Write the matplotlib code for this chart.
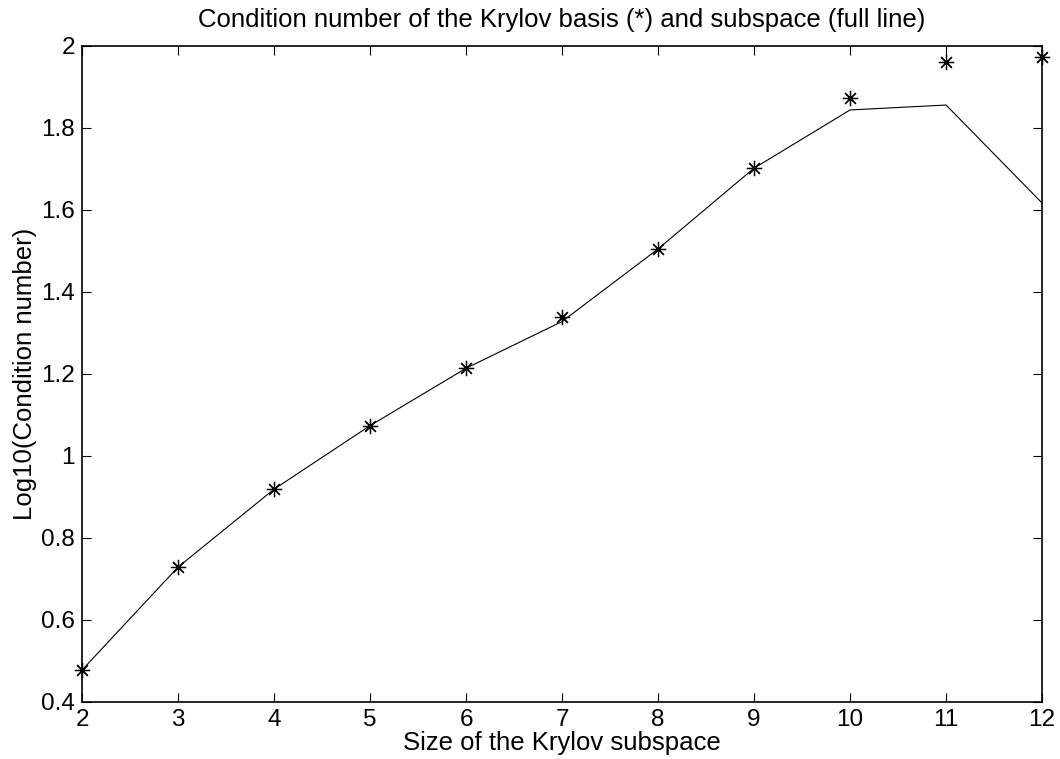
import numpy as np
import matplotlib
import matplotlib.pyplot as plt
matplotlib.use('Agg')

plt.rcParams['font.family'] = ['Liberation Sans', 'DejaVu Sans']

# Krylov subspace sizes and log10 of the condition numbers
sizes = [2, 3, 4, 5, 6, 7, 8, 9, 10, 11, 12]
basis_cond = [0.478, 0.729, 0.919, 1.074, 1.214, 1.340, 1.505, 1.702, 1.874, 1.960, 1.972]
subspace_cond = [0.478, 0.729, 0.919, 1.074, 1.214, 1.328, 1.505, 1.702, 1.844, 1.856, 1.617]

xticks = [2, 3, 4, 5, 6, 7, 8, 9, 10, 11, 12]
yticks = [0.4, 0.6, 0.8, 1.0, 1.2, 1.4, 1.6, 1.8, 2.0]
ytick_labels = ['0.4', '0.6', '0.8', '1', '1.2', '1.4', '1.6', '1.8', '2']

fig = plt.figure(figsize=(10.6, 7.59), dpi=100)
ax = fig.add_axes([0.0774, 0.0751, 0.9057, 0.8643])

ax.plot(sizes, subspace_cond, color='black', linewidth=0.8, clip_on=False)
ax.plot(sizes, basis_cond, linestyle='none', marker=(8, 2, 0), markersize=11,
        markeredgewidth=0.9, color='black', clip_on=False)

ax.set_xlim(2, 12)
ax.set_ylim(0.4, 2)
ax.set_xticks(xticks)
ax.set_yticks(yticks)
ax.set_yticklabels(ytick_labels)

ax.tick_params(direction='in', length=6.5, width=0.8, top=True, right=True,
               labelsize=17.5, pad=5)
for s in ax.spines.values():
    s.set_linewidth(1.2)

ax.set_title('Condition number of the Krylov basis (*) and subspace (full line)',
             fontsize=18.5, pad=14)
ax.set_xlabel('Size of the Krylov subspace', fontsize=18.5, labelpad=0)
ax.set_ylabel('Log10(Condition number)', fontsize=18.5, labelpad=3)

fig.savefig('out.png', dpi=100)
